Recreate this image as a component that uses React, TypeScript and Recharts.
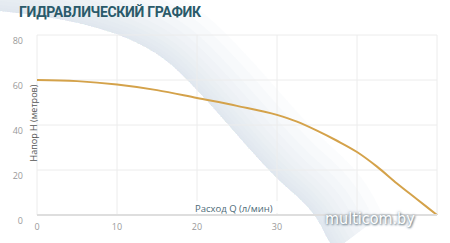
import React from "react";
import {
  LineChart,
  Line,
  XAxis,
  YAxis,
  CartesianGrid,
  Label,
} from "recharts";

// Q, л/мин
const flow = [0, 5, 10, 15, 20, 25, 30, 32.5, 35, 37.5, 40, 42.5, 45, 47.5, 50];
// H, метров
const head = [60, 59.5, 58, 55.5, 52, 48.5, 44.5, 41.5, 37.5, 33, 28, 21.5, 14, 7, 0];

const xTicks = [0, 10, 20, 30, 40, 50];
const yTicks = [0, 20, 40, 60, 80];

const data = flow.map((q, i) => ({ q, h: head[i] }));

function YTick(props: any) {
  const { x, y, payload } = props;
  return (
    <text x={x} y={y + 5} textAnchor="end" dominantBaseline="central" fill="#9a9a9a" fontSize={9} fontFamily="Open Sans">
      {payload.value}
    </text>
  );
}

function XTick(props: any) {
  const { x, y, payload } = props;
  if (payload.value > 30) return <g />;
  return (
    <text x={x} y={y + 5} textAnchor="middle" dominantBaseline="central" fill="#9a9a9a" fontSize={9} fontFamily="Open Sans">
      {payload.value}
    </text>
  );
}

// decorative background ribbon
const EDGE = "M-10 10 C80 18 140 35 175 68 C215 105 255 160 290 190 S320 230 335 250";
const FADE = [120, 100, 80, 64, 50, 38, 28, 20, 12, 6, 2];

function Swoosh() {
  return (
    <svg width={450} height={243} style={{ position: "absolute", left: 0, top: 0 }}>
      <defs>
        <clipPath id="above">
          <path d={EDGE + " L460 250 L460 -10 L-10 -10 Z"} />
        </clipPath>
      </defs>
      <g clipPath="url(#above)" fill="none" stroke="#d3e0e9">
        {FADE.map((w) => (
          <path key={w} d={EDGE} strokeWidth={w} strokeOpacity={0.09} />
        ))}
      </g>
    </svg>
  );
}

export default function App() {
  return (
    <div style={{ position: "fixed", left: 0, top: 0, width: 450, height: 243, background: "#fff", overflow: "hidden" }}>
      <Swoosh />
      <div
        style={{
          position: "absolute",
          left: 19,
          top: 4,
          fontFamily: "Roboto",
          fontWeight: 700,
          fontSize: 14,
          letterSpacing: -0.3,
          color: "#2a5a6a",
          whiteSpace: "nowrap",
        }}
      >
        ГИДРАВЛИЧЕСКИЙ ГРАФИК
      </div>
      <div style={{ position: "absolute", left: 0, top: 0 }}>
        <LineChart width={450} height={243} data={data} margin={{ top: 35, right: 13, bottom: 0, left: 7 }}>
          <CartesianGrid stroke="#ececec" strokeWidth={1} />
          <XAxis
            dataKey="q"
            type="number"
            domain={[0, 50]}
            ticks={xTicks}
            height={28}
            tick={<XTick />}
            tickLine={false}
            tickSize={0}
            tickMargin={6}
            axisLine={{ stroke: "#dedede", strokeWidth: 2 }}
          >
            <Label
              content={({ viewBox }: any) => (
                <g>
                  <rect x={viewBox.x + 156} y={viewBox.y - 14} width={88} height={12} fill="#ffffff" fillOpacity={0.85} />
                  <text x={viewBox.x + 158} y={viewBox.y - 7} dominantBaseline="central" fill="#4d6b78" fontSize={9.5} fontFamily="Open Sans">
                    Расход Q (л/мин)
                  </text>
                </g>
              )}
            />
          </XAxis>
          <YAxis
            type="number"
            domain={[0, 80]}
            ticks={yTicks}
            width={30}
            tick={<YTick />}
            tickLine={false}
            tickSize={0}
            tickMargin={14}
            axisLine={false}
          >
            <Label
              content={({ viewBox }: any) => (
                <text
                  x={viewBox.x + 26}
                  y={123}
                  transform={`rotate(-90 ${viewBox.x + 26} 123)`}
                  textAnchor="middle"
                  dominantBaseline="central"
                  fill="#555"
                  fontSize={9}
                  fontFamily="Open Sans"
                >
                  Напор H (метров)
                </text>
              )}
            />
          </YAxis>
          <Line
            dataKey="h"
            type="monotone"
            stroke="#d4a24a"
            strokeWidth={2}
            dot={false}
            isAnimationActive={false}
          />
        </LineChart>
      </div>
      <div
        style={{
          position: "absolute",
          left: 325,
          top: 209,
          fontFamily: "DejaVu Sans Condensed, DejaVu Sans",
          fontSize: 16,
          color: "#ffffff",
          textShadow: "0 0 3px #6b7f8c, 1px 1px 2px #6b7f8c",
          whiteSpace: "nowrap",
        }}
      >
        multicom.by
      </div>
    </div>
  );
}
